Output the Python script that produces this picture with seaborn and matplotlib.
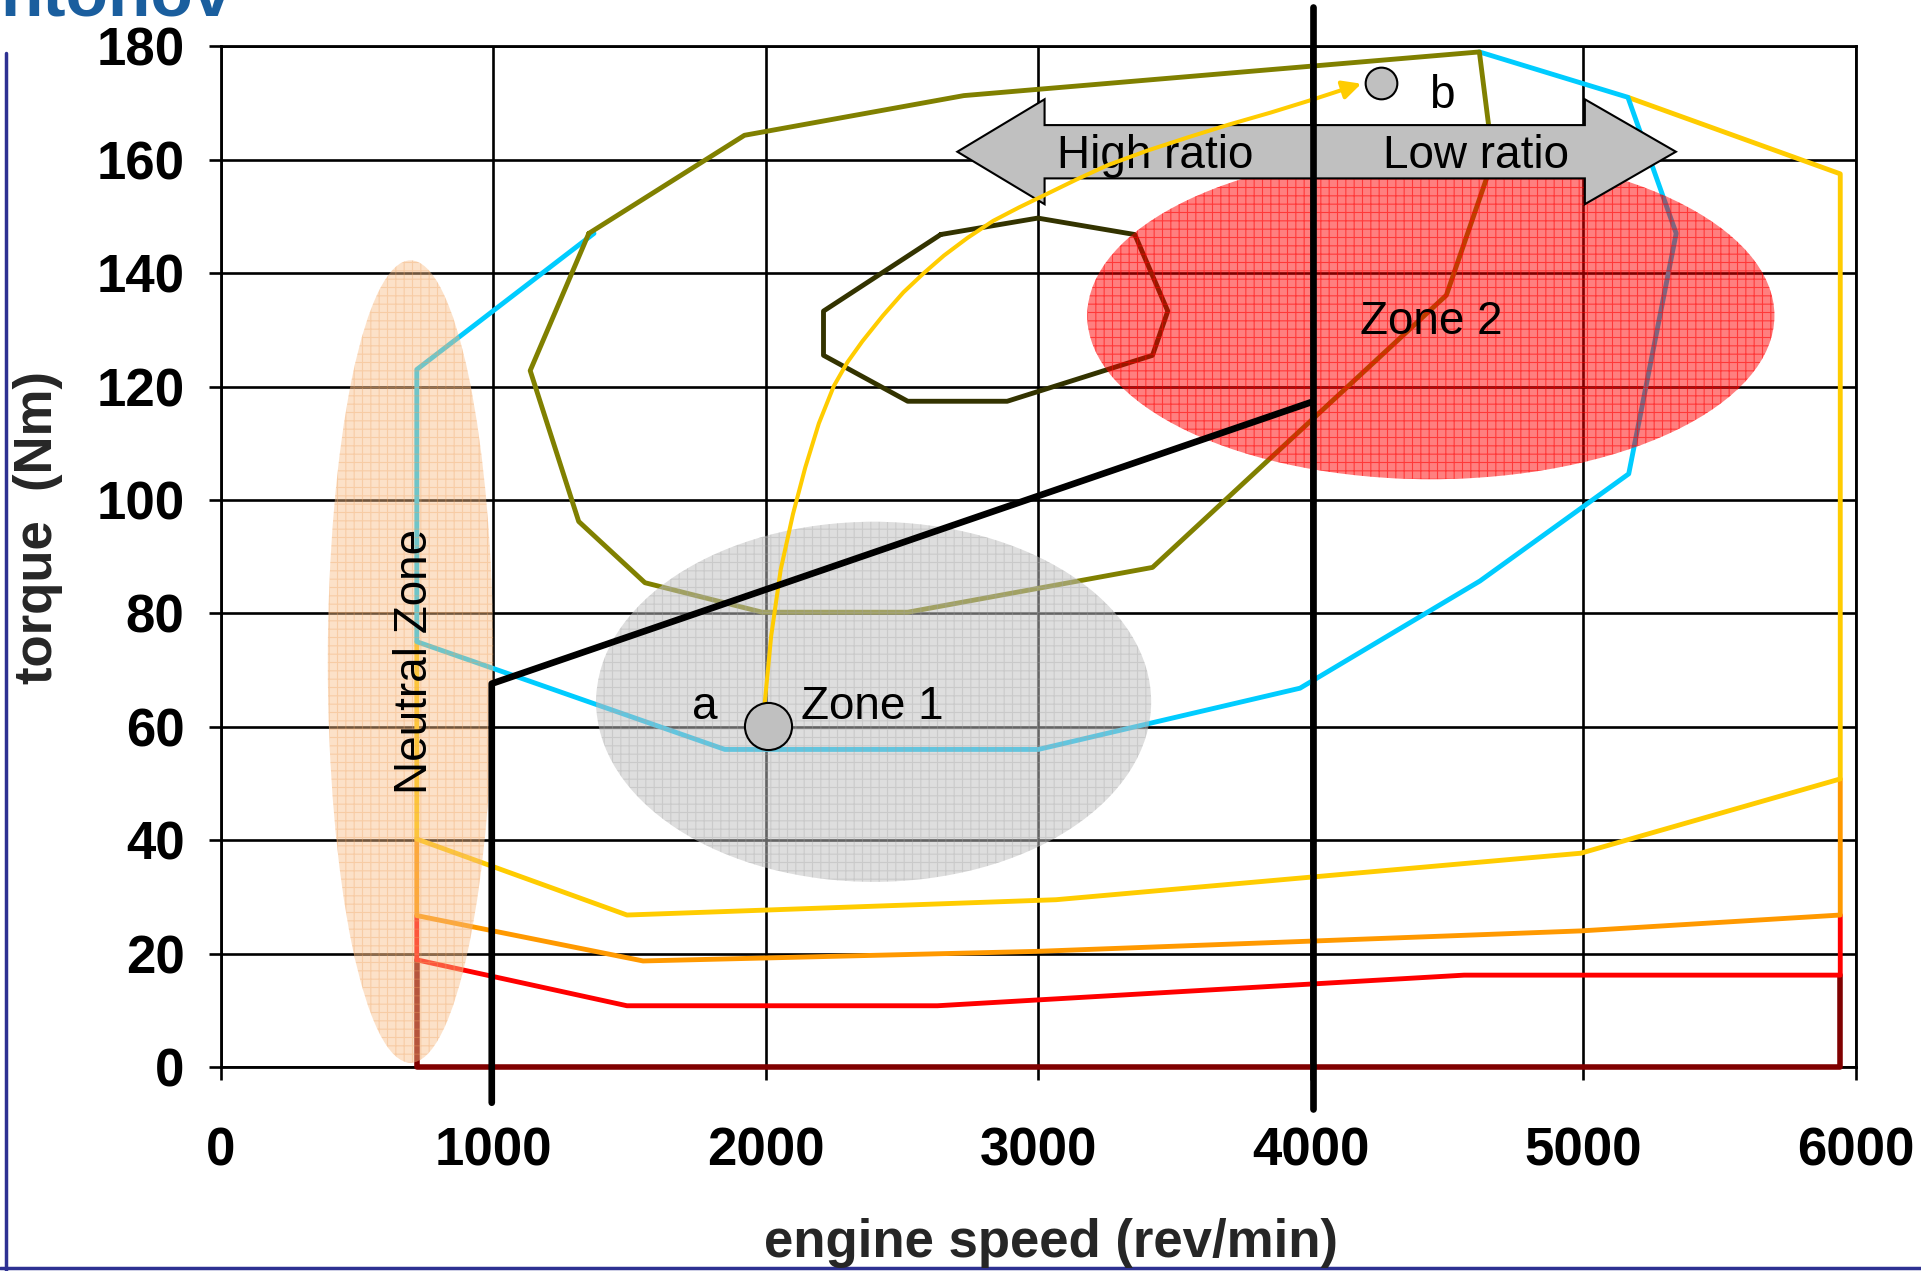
import numpy as np
import matplotlib
matplotlib.use("Agg")
import matplotlib.pyplot as plt
from matplotlib.patches import Ellipse, Polygon
from matplotlib.lines import Line2D
import seaborn as sns

# ---- data (engine speed in rev/min, torque in Nm) ----
maroon_rpm = [720, 720, 5942, 5942]
maroon_nm = [18.9, 0, 0, 16.2]

red_rpm = [720, 720, 1491, 2630, 4562, 5942, 5942]
red_nm = [26.7, 18.9, 10.8, 10.8, 16.2, 16.2, 26.8]

orange_rpm = [720, 720, 1550, 3000, 4000, 4990, 5942, 5942]
orange_nm = [40.2, 26.7, 18.7, 20.4, 22.2, 24.0, 26.8, 50.8]

yellow_rpm = [720, 720, 1491, 3065, 4990, 5942, 5942, 5163]
yellow_nm = [75, 40.2, 26.8, 29.5, 37.7, 50.8, 157.5, 171]

cyan_rpm = [1370, 720, 720, 1850, 3000, 3960, 4620, 5166, 5340, 5163, 4618]
cyan_nm = [147, 123, 75, 56, 56, 66.8, 85.7, 104.6, 147, 171, 179]

olive_rpm = [1351, 1922, 2727, 4618, 4668, 4497, 3419, 2521, 1987, 1557, 1314, 1136, 1351]
olive_nm = [147, 164.3, 171.3, 179, 160, 136.1, 88.1, 80.2, 80.2, 85.4, 96.2, 122.8, 147]

inner_rpm = [2642, 2998, 3354, 3475, 3419, 2886, 2521, 2212, 2212, 2642]
inner_nm = [146.8, 149.7, 146.8, 133.3, 125.5, 117.4, 117.4, 125.5, 133.3, 146.8]

shift_rpm = [1995, 2020, 2055, 2100, 2145, 2195, 2250, 2300, 2355, 2430, 2505,
             2580, 2654, 2740, 2834, 2930, 3029, 3140, 3253, 3400, 3553, 3700, 3852, 4000]
shift_nm = [63.5, 76.0, 87.7, 97.5, 105.7, 113.5, 120.1, 124.3, 128.0, 132.5, 136.6,
            140.0, 143.1, 146.2, 149.2, 151.6, 153.9, 156.5, 159.0, 161.6, 164.0, 166.2, 168.3, 170.5]
shift_head = (4185, 173.4)

control_rpm = [995, 995, 4005]
control_nm = [-6.3, 67.6, 117.3]
split_rpm = [4008, 4008]
split_nm = [-7.4, 187]

point_a = (2007, 60.1)
point_b = (4258, 173.6)

# zones: centre rpm, centre Nm, width rpm, height Nm
neutral_zone = (697, 71.5, 607, 141.5)
zone1 = (2396, 64.4, 2036, 63.5)
zone2 = (4440, 132.5, 2521, 57.7)

x_ticks = [0, 1000, 2000, 3000, 4000, 5000, 6000]
y_ticks = [0, 20, 40, 60, 80, 100, 120, 140, 160, 180]

sns.set_style("ticks")
plt.rcParams["font.family"] = ["Liberation Sans", "DejaVu Sans"]
plt.rcParams["hatch.linewidth"] = 0.8

fig = plt.figure(figsize=(19.21, 12.71), dpi=100)
ax = fig.add_axes([0.1148, 0.1605, 0.8514, 0.8031])

ax.set_xlim(0, 6000)
ax.set_ylim(0, 180)
ax.set_xticks(x_ticks)
ax.set_yticks(y_ticks)
ax.set_axisbelow(True)
ax.grid(True, color="black", lw=1.9)
for s in ax.spines.values():
    s.set_visible(True)
    s.set_color("black")
    s.set_linewidth(2)
ax.tick_params(length=9, width=1.9, direction="out", labelsize=38, colors="black")
ax.tick_params(axis="x", pad=34)
ax.tick_params(axis="y", pad=17)
for lab in ax.get_xticklabels() + ax.get_yticklabels():
    lab.set_fontweight("bold")

# characteristic curves
curves = [
    (maroon_rpm, maroon_nm, "#800000", 4.0),
    (red_rpm, red_nm, "#FF0000", 3.5),
    (orange_rpm, orange_nm, "#FF9900", 3.5),
    (yellow_rpm, yellow_nm, "#FFCC00", 3.5),
    (cyan_rpm, cyan_nm, "#00CCFF", 3.5),
    (olive_rpm, olive_nm, "#808000", 3.5),
    (inner_rpm, inner_nm, "#333300", 3.5),
]
for xs, ys, col, lw in curves:
    sns.lineplot(x=xs, y=ys, sort=False, estimator=None, color=col, lw=lw, ax=ax, zorder=2.7)
    ax.lines[-1].set_clip_on(False)

# shaded zones
zone_styles = [
    (neutral_zone, (250/255, 190/255, 135/255, 0.45), (240/255, 165/255, 100/255, 0.35)),
    (zone1, (192/255, 192/255, 192/255, 0.52), (165/255, 165/255, 165/255, 0.35)),
    (zone2, (1, 0, 0, 0.5), (1, 0, 0, 0.55)),
]
for (cx, cy, w, h), face, hatch_col in zone_styles:
    ax.add_patch(Ellipse((cx, cy), w, h, facecolor=face, edgecolor=hatch_col,
                         lw=0, hatch="++", zorder=3))

# ratio arrows
ry, shaft, head = 161.4, 4.7, 9.25
left_arrow = [(4008, ry + shaft), (3023, ry + shaft), (3023, ry + head), (2703, ry),
              (3023, ry - head), (3023, ry - shaft), (4008, ry - shaft)]
right_arrow = [(4008, ry + shaft), (5005, ry + shaft), (5005, ry + head), (5339, ry),
               (5005, ry - head), (5005, ry - shaft), (4008, ry - shaft)]
for pts in (left_arrow, right_arrow):
    ax.add_patch(Polygon(pts, closed=True, facecolor="#C0C0C0", edgecolor="black",
                         lw=1.5, zorder=4))

txt = dict(fontsize=33, color="black", zorder=5)
ax.text(3430, 160.6, "High ratio", ha="center", va="center", **txt)
ax.text(4607, 160.6, "Low ratio", ha="center", va="center", **txt)
ax.text(4440, 131.3, "Zone 2", ha="center", va="center", **txt)
ax.text(2391, 63.5, "Zone 1", ha="center", va="center", **txt)
ax.text(1775, 63.5, "a", ha="center", va="center", **txt)
ax.text(4481, 171.3, "b", ha="center", va="center", **txt)
ax.text(715, 71.5, "Neutral Zone", ha="center", va="center", rotation=90, **txt)

# shift path a -> b
sns.lineplot(x=shift_rpm, y=shift_nm, sort=False, estimator=None, color="#FFCC00",
             lw=2.9, ax=ax, zorder=6)
ax.annotate("", xy=shift_head, xytext=(shift_rpm[-1], shift_nm[-1]),
            arrowprops=dict(arrowstyle="-|>", color="#FFCC00", lw=2.9,
                            mutation_scale=28, shrinkA=0, shrinkB=0), zorder=6)

# control line
for xs, ys in ((control_rpm, control_nm), (split_rpm, split_nm)):
    sns.lineplot(x=xs, y=ys, sort=False, estimator=None, color="black", lw=4.8,
                 ax=ax, zorder=6)
    ax.lines[-1].set_clip_on(False)

sns.scatterplot(x=[point_a[0]], y=[point_a[1]], s=1150, color="#C0C0C0",
                edgecolor="black", linewidth=1.5, ax=ax, zorder=7)
sns.scatterplot(x=[point_b[0]], y=[point_b[1]], s=520, color="#C0C0C0",
                edgecolor="black", linewidth=1.5, ax=ax, zorder=7)

ax.set_xlim(0, 6000)
ax.set_ylim(0, 180)
ax.set_xlabel("")
ax.set_ylabel("")

fig.text(0.547, 0.022, "engine speed (rev/min)", ha="center", va="center",
         fontsize=38, fontweight="bold")
fig.text(0.020, 0.585, "torque  (Nm)", ha="center", va="center", rotation=90,
         fontsize=38, fontweight="bold")

# slide frame and logo
fig.add_artist(Line2D([0.0031, 0.0031], [0.0, 0.958], color="#2E3192", lw=2.5,
                      transform=fig.transFigure))
fig.add_artist(Line2D([0.0, 1.0], [0.0024, 0.0024], color="#2E3192", lw=2.5,
                      transform=fig.transFigure))
fig.text(0.0, 0.9875, "ntonov", ha="left", va="baseline", fontsize=50,
         fontweight="bold", color="#1A5E9E")

fig.savefig("out.png", dpi=100, facecolor="white")
